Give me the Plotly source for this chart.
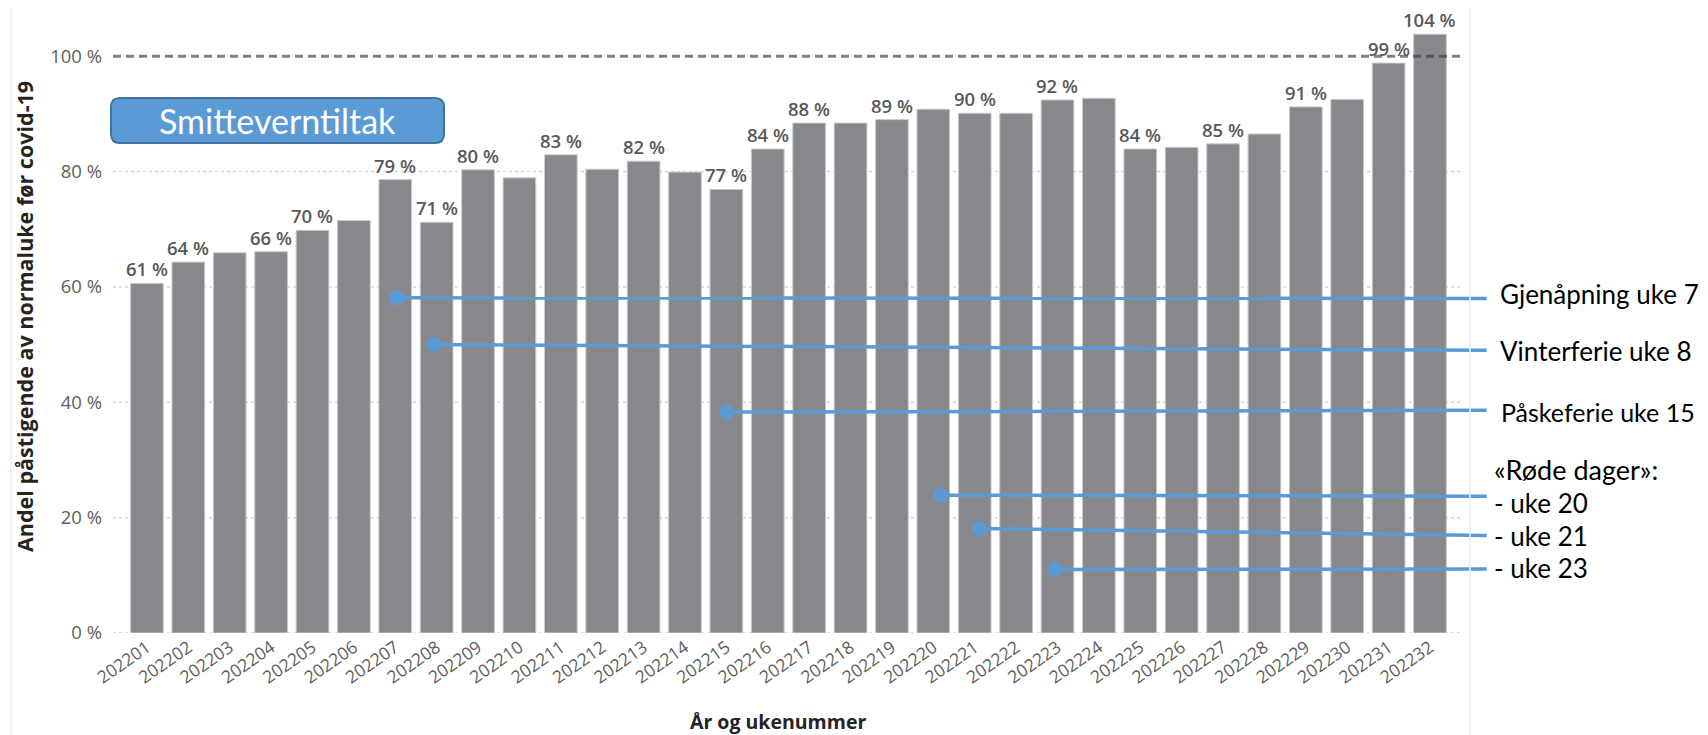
import plotly.graph_objects as go

# ---------------- data ----------------
weeks = ["202201", "202202", "202203", "202204", "202205", "202206", "202207", "202208",
         "202209", "202210", "202211", "202212", "202213", "202214", "202215", "202216",
         "202217", "202218", "202219", "202220", "202221", "202222", "202223", "202224",
         "202225", "202226", "202227", "202228", "202229", "202230", "202231", "202232"]
values = [60.6, 64.3, 65.9, 66.1, 69.8, 71.5, 78.6, 71.2,
          80.3, 78.9, 82.9, 80.4, 81.8, 79.9, 76.9, 83.9,
          88.4, 88.4, 89.0, 90.8, 90.1, 90.1, 92.4, 92.7,
          83.9, 84.2, 84.8, 86.5, 91.2, 92.5, 98.8, 103.8]
# which bars carry a data label in the original
label_shown = [1, 1, 0, 1, 1, 0, 1, 1,
               1, 0, 1, 0, 1, 0, 1, 1,
               1, 0, 1, 0, 1, 0, 1, 0,
               1, 0, 1, 0, 1, 0, 1, 1]
y_tickvals = [0, 20, 40, 60, 80, 100]
y_ticktext = ["0 %", "20 %", "40 %", "60 %", "80 %", "100 %"]
reference_level = 100

event_texts = ["Gjenåpning uke 7", "Vinterferie uke 8", "Påskeferie uke 15",
               "- uke 20", "- uke 21", "- uke 23"]
event_weeks = ["202207", "202208", "202215", "202220", "202221", "202223"]
event_dot_y = [58.1, 50.0, 38.3, 23.9, 18.1, 11.0]
event_end_y = [58.0, 49.0, 38.6, 23.7, 16.9, 11.1]
red_days_header = "«Røde dager»:"
box_text = "Smitteverntiltak"
x_title = "År og ukenummer"
y_title = "Andel påstigende av normaluke før covid-19"

# ---------------- layout constants ----------------
OFF = 8                      # default page body margin of the html page
W, H = 1708 - OFF, 735 - OFF
ML, MR, MT, MB = 105, 218, 2, 102
PW, PH = W - ML - MR, H - MT - MB
XR = [-0.82, 32.45]
YR = [0, 108]

def px_x(p):   # screen pixel -> paper x
    return (p - OFF - ML) / PW

def px_y(p):   # screen pixel -> paper y
    return (H - MB - (p - OFF)) / PH

BAR = "#86888C"
BLUE = "#5B9BD5"
TICK = "#605E5C"
LABEL = "#595959"

xs = list(range(len(weeks)))

fig = go.Figure()
fig.add_trace(go.Bar(
    x=xs, y=values, width=0.79,
    marker=dict(color=BAR, line=dict(color="#C9CACC", width=1)),
    hoverinfo="skip", showlegend=False))

# data labels
for i, (v, s) in enumerate(zip(values, label_shown)):
    if s:
        fig.add_annotation(x=i, y=v, xref="x", yref="y", text=f"{round(v)} %",
                           showarrow=False, yanchor="bottom", yshift=1, borderpad=0,
                           font=dict(family="Open Sans", size=18.5, color=LABEL, weight=600))

# grid lines (dotted) and 100 % reference line (dashed)
for t in y_tickvals:
    if t == reference_level:
        continue
    fig.add_shape(type="line", xref="x", yref="y", x0=XR[0], x1=31.8, y0=t, y1=t,
                  line=dict(color="#D6D6D6", width=1.5, dash="dot"), layer="below")
fig.add_shape(type="line", xref="x", yref="y", x0=XR[0], x1=31.8,
              y0=reference_level, y1=reference_level,
              line=dict(color="rgba(60,60,60,0.65)", width=3, dash="8px,5px"), layer="above")

# event markers
event_dx = [0.03, -0.07, 0.01, 0.18, 0.12, -0.07]
x_end = 32.37
for wk, dx, y0, y1 in zip(event_weeks, event_dx, event_dot_y, event_end_y):
    xi = weeks.index(wk) + dx
    fig.add_trace(go.Scatter(x=[xi, x_end], y=[y0, y1], mode="lines",
                             line=dict(color=BLUE, width=3.5),
                             hoverinfo="skip", showlegend=False))
    fig.add_trace(go.Scatter(x=[xi], y=[y0], mode="markers",
                             marker=dict(color=BLUE, size=15),
                             hoverinfo="skip", showlegend=False, cliponaxis=False))

event_text_px = [(1499, 294), (1499, 351), (1500, 412), (1493, 503), (1493, 536), (1493, 568)]
event_text_size = [26, 26, 25, 26, 26, 26]
for t, (px, py), fs in zip(event_texts, event_text_px, event_text_size):
    fig.add_annotation(xref="paper", yref="paper", x=px_x(px), y=px_y(py), text=t,
                       showarrow=False, xanchor="left", yanchor="middle", borderpad=0,
                       font=dict(family="Lato", size=fs, color="#000000"))
fig.add_annotation(xref="paper", yref="paper", x=px_x(1493), y=px_y(469), text=red_days_header,
                   showarrow=False, xanchor="left", yanchor="middle", borderpad=0,
                   font=dict(family="Lato", size=27, color="#000000"))

# "Smitteverntiltak" rounded box
bx0, bx1, by0, by1 = px_x(111), px_x(444), px_y(143), px_y(98)
rx, ry = 9 / PW, 9 / PH
path = (f"M {bx0+rx},{by0} L {bx1-rx},{by0} Q {bx1},{by0} {bx1},{by0+ry} "
        f"L {bx1},{by1-ry} Q {bx1},{by1} {bx1-rx},{by1} L {bx0+rx},{by1} "
        f"Q {bx0},{by1} {bx0},{by1-ry} L {bx0},{by0+ry} Q {bx0},{by0} {bx0+rx},{by0} Z")
fig.add_shape(type="path", xref="paper", yref="paper", path=path,
              fillcolor=BLUE, line=dict(color="#41719C", width=2), layer="above")
fig.add_annotation(xref="paper", yref="paper", x=(bx0 + bx1) / 2, y=(by0 + by1) / 2,
                   text=box_text, showarrow=False, xanchor="center", yanchor="middle",
                   font=dict(family="Lato", size=34, color="#FFFFFF"))

# axis titles
fig.add_annotation(xref="paper", yref="paper", x=px_x(24), y=px_y(317), text=y_title,
                   textangle=-90, showarrow=False, xanchor="center", yanchor="middle",
                   borderpad=0,
                   font=dict(family="Open Sans", size=21.5, color="#252423", weight=700))
fig.add_annotation(xref="paper", yref="paper", x=px_x(778), y=px_y(721), text=x_title,
                   showarrow=False, xanchor="center", yanchor="middle",
                   font=dict(family="Open Sans", size=19.5, color="#252423", weight=700))

# faint visual borders
for bxp in (3 + OFF, 1470):
    fig.add_shape(type="line", xref="paper", yref="paper", x0=px_x(bxp), x1=px_x(bxp),
                  y0=px_y(735), y1=px_y(OFF), line=dict(color="#EDEDED", width=1.5))

fig.update_layout(
    width=W, height=H,
    margin=dict(l=ML, r=MR, t=MT, b=MB),
    plot_bgcolor="white", paper_bgcolor="white",
    bargap=0.21,
)
fig.update_xaxes(range=XR, tickmode="array", tickvals=xs, ticktext=weeks,
                 tickangle=-35, showgrid=False, zeroline=False, showline=False,
                 ticks="", tickfont=dict(family="Open Sans", size=17.5, color=TICK))
fig.update_yaxes(range=YR, tickmode="array", tickvals=y_tickvals, ticktext=y_ticktext,
                 showgrid=False, zeroline=False, showline=False, ticks="",
                 ticklabelstandoff=10,
                 tickfont=dict(family="Open Sans", size=18.5, color=TICK))

fig.write_html("out.html")
